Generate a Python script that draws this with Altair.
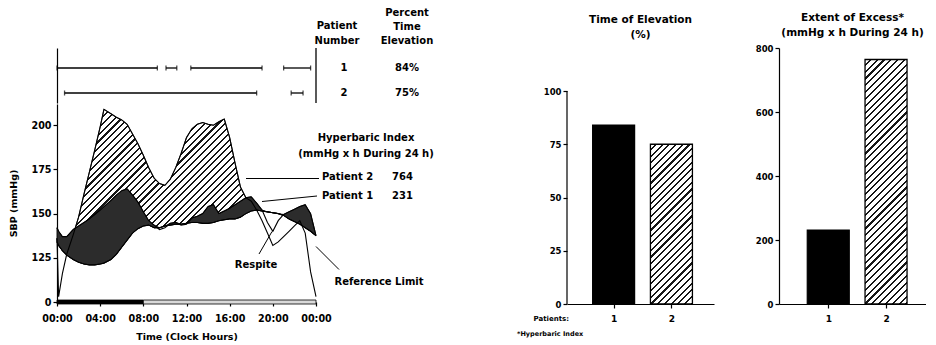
import math
import altair as alt
import pandas as pd

FONT = "DejaVu Sans"

# ---------------- data ----------------
# 24-h ambulatory SBP (axis is broken: 100 on this scale is drawn as "0")
HOURS = [0.0, 0.15, 0.5, 0.9, 1.5, 2.0, 2.5, 3.0, 3.5, 4.0, 4.35, 5.0, 5.5, 6.0, 6.5, 7.0, 7.5, 8.0, 8.5, 9.0,
         9.5, 10.0, 10.5, 11.0, 11.5, 12.0, 12.5, 13.0, 13.5, 14.0, 14.5, 15.0, 15.5, 16.0, 16.5, 17.0, 17.5, 18.0, 18.5, 19.0,
         19.5, 20.0, 20.5, 21.0, 21.5, 22.0, 22.5, 23.0, 23.5, 24.0]
REF_LIMIT = [134, 132, 129, 126.5, 124, 122.5, 121.5, 121, 121, 121.5, 122, 124, 127, 131, 135, 139, 141.5, 143, 143.5, 142,
             142, 143, 143.5, 144, 144, 144.5, 145, 145, 144.5, 144.5, 145, 146, 146.5, 147, 147, 148, 150, 151.5, 152, 151.5,
             151, 150.5, 150, 149, 147, 145.5, 144, 142, 140, 137.5]
PATIENT1_SBP = [142, 140, 137, 137, 141, 143, 145, 147, 149.5, 152, 154, 157.5, 160.5, 163, 164, 160.5, 156.5, 151, 146, 143.5,
                141, 142, 144.5, 145, 143.5, 144, 147.5, 148.5, 150, 154, 155, 150, 151.5, 153, 155, 157, 159, 159.5, 156, 152,
                145, 140, 146, 149.5, 151, 152.5, 154, 155, 150, 137.5]
PATIENT2_SBP = [136, 103, 116, 127, 138, 148, 161, 173.5, 186, 199, 209, 206.5, 204.5, 203, 200.5, 195, 189.5, 183, 176, 170,
                167, 166, 169.5, 176, 184, 193, 198, 200.5, 201.5, 200.5, 200, 202, 203.5, 193, 178.5, 165, 159, 157, 152, 146,
                139, 132, 134, 137, 140, 143, 146, 139, 117, 103]

PATIENTS = [1, 2]
PCT_TIME_ELEVATION = [84, 75]
HYPERBARIC_INDEX = [231, 764]

# periods of elevation (timeline above the curves)
TL_PATIENT = [1, 1, 1, 1, 2, 2]
TL_START = [0.0, 10.1, 12.4, 21.0, 0.7, 21.7]
TL_END = [9.3, 11.1, 19.0, 23.5, 18.5, 22.8]

# night / day band under the time axis
BAND_KIND = ["night", "day"]
BAND_START = [0, 8]
BAND_END = [8, 24]

X_TICKS = [0, 4, 8, 12, 16, 20, 24]
X_TICK_LABELS = ["00:00", "04:00", "08:00", "12:00", "16:00", "20:00", "00:00"]
Y_TICKS = [100, 125, 150, 175, 200]
Y_TICK_LABELS = ["0", "125", "150", "175", "200"]


def label_expr(values, labels):
    vals = ",".join(str(v) for v in values)
    labs = ",".join("'" + s + "'" for s in labels)
    return f"[{labs}][indexof([{vals}], datum.value)]"


def hatch(w, h, spacing=4.8, lw=1.5, ink="#151515", paper="white"):
    """Diagonal '/' hatching as a striped linear gradient for a w x h pixel box."""
    a = (w + h) / (w * w + h * h)
    n = max(1, int(round((w + h) / (math.sqrt(2) * spacing))))
    f = lw * math.sqrt(2) / (w + h)
    stops = []
    for i in range(n):
        s, e = i / n, (i + 1) / n
        stops += [alt.GradientStop(color=paper, offset=round(s, 5)),
                  alt.GradientStop(color=paper, offset=round(e - f, 5)),
                  alt.GradientStop(color=ink, offset=round(e - f, 5)),
                  alt.GradientStop(color=ink, offset=round(e, 5))]
    return alt.Gradient(gradient="linear", stops=stops, x1=0, y1=0, x2=round(w * a, 5), y2=round(h * a, 5))


ONE = pd.DataFrame({"_": [0]})


def label(text, x, y, align="center", size=10, baseline="middle"):
    return alt.Chart(ONE).mark_text(text=text, align=align, baseline=baseline, fontSize=size,
                                    fontWeight="bold", font=FONT, color="black").encode(
        x=alt.value(x), y=alt.value(y))


def leader(x1, y1, x2, y2):
    return alt.Chart(ONE).mark_rule(color="black", strokeWidth=1).encode(
        x=alt.value(x1), y=alt.value(y1), x2=alt.value(x2), y2=alt.value(y2))


# ---------------- left panel: SBP curves ----------------
W_MAIN, H_MAIN = 259, 198
Y_DOM = [100, 212]
px_per_unit = H_MAIN / (Y_DOM[1] - Y_DOM[0])

sbp = pd.DataFrame({"hour": HOURS, "ref": REF_LIMIT, "p1": PATIENT1_SBP, "p2": PATIENT2_SBP})
x_scale = alt.Scale(domain=[0, 24], nice=False, zero=False)
y_scale = alt.Scale(domain=Y_DOM, nice=False, zero=False)

x_axis_main = alt.Axis(values=X_TICKS, labelExpr=label_expr(X_TICKS, X_TICK_LABELS),
                       title="Time (Clock Hours)", domain=False, tickSize=4, labelPadding=7,
                       titlePadding=9, labelFlush=False, labelFontSize=9.6, titleFontSize=9.5)
y_axis_main = alt.Axis(values=Y_TICKS, labelExpr=label_expr(Y_TICKS, Y_TICK_LABELS),
                       title="SBP (mmHg)", tickSize=4, labelPadding=2, titlePadding=12,
                       labelFontSize=9.6, titleFontSize=9.5)

hatch_h = (max(max(p, r) for p, r in zip(PATIENT2_SBP, REF_LIMIT)) - min(REF_LIMIT)) * px_per_unit
hatched_area = alt.Chart(sbp).transform_calculate(top2="max(datum.p2, datum.ref)").mark_area(
    fill=hatch(W_MAIN, hatch_h), stroke="black", strokeWidth=0.8).encode(
    x=alt.X("hour:Q", scale=x_scale, axis=x_axis_main),
    y=alt.Y("top2:Q", scale=y_scale, axis=y_axis_main),
    y2="ref:Q")

dark_area = alt.Chart(sbp).transform_calculate(top1="max(datum.p1, datum.ref)").mark_area(
    fill="#2c2c2c", stroke="black", strokeWidth=0.8).encode(
    x=alt.X("hour:Q", scale=x_scale, axis=x_axis_main),
    y=alt.Y("top1:Q", scale=y_scale, axis=y_axis_main), y2="ref:Q")

curves = alt.Chart(sbp).transform_fold(["ref", "p1", "p2"], as_=["series", "sbp"]).mark_line(
    color="black", strokeWidth=1.1).encode(
    x=alt.X("hour:Q", scale=x_scale, axis=x_axis_main),
    y=alt.Y("sbp:Q", scale=y_scale, axis=y_axis_main), detail="series:N")

band_df = pd.DataFrame({"kind": BAND_KIND, "start": BAND_START, "end": BAND_END})
band = alt.Chart(band_df).mark_rect(stroke="black", strokeWidth=0.8).encode(
    x=alt.X("start:Q", scale=x_scale, axis=x_axis_main), x2="end:Q",
    y=alt.value(H_MAIN - 2), y2=alt.value(H_MAIN + 2),
    fill=alt.Fill("kind:N", scale=alt.Scale(domain=["night", "day"], range=["black", "#d9d9d9"]), legend=None))

hb_df = pd.DataFrame({"patient": PATIENTS, "hbi": HYPERBARIC_INDEX})


def hb_row(p, y):
    base = alt.Chart(hb_df).transform_filter(f"datum.patient == {p}")
    name = base.transform_calculate(lbl="'Patient ' + datum.patient").mark_text(
        align="left", baseline="middle", fontSize=10, fontWeight="bold", font=FONT, color="black").encode(
        x=alt.value(265), y=alt.value(y), text="lbl:N")
    val = base.mark_text(align="left", baseline="middle", fontSize=10, fontWeight="bold", font=FONT,
                         color="black").encode(x=alt.value(335), y=alt.value(y), text=alt.Text("hbi:Q", format="d"))
    return name + val


annotations = (
    label("Hyperbaric Index", 309, 33.5) + label("(mmHg x h During 24 h)", 309, 50) +
    hb_row(2, 72.5) + hb_row(1, 91.5) +
    leader(189, 74.5, 262, 74.5) + leader(205, 97.5, 260, 92) +
    label("Respite", 199, 160.5) + leader(202, 150, 215, 127.5) +
    label("Reference Limit", 322, 177.5) + leader(259, 142.5, 282, 165.5)
)

main = alt.layer(hatched_area, dark_area, curves, band, annotations).properties(width=W_MAIN, height=H_MAIN)

# ---------------- timeline of elevation ----------------
TL_H = 55
tl_df = pd.DataFrame({"patient": TL_PATIENT, "start": TL_START, "end": TL_END})
tl_y = alt.Scale(domain=[0.2, 2.4], reverse=True, nice=False, zero=False)
tl_axis = alt.Axis(title=None, labels=False, ticks=False, grid=False, domain=True)

segments = alt.Chart(tl_df).mark_rule(color="black", strokeWidth=1.3).encode(
    x=alt.X("start:Q", scale=x_scale, axis=None), x2="end:Q",
    y=alt.Y("patient:Q", scale=tl_y, axis=tl_axis))
caps = alt.Chart(tl_df).transform_fold(["start", "end"], as_=["edge", "hr"]).mark_tick(
    orient="vertical", size=5, thickness=1.3, color="black").encode(
    x=alt.X("hr:Q", scale=x_scale, axis=None), y=alt.Y("patient:Q", scale=tl_y, axis=tl_axis))
bracket = alt.Chart(ONE).mark_rule(color="black", strokeWidth=1.3).encode(
    x=alt.XDatum(24, axis=None), y=alt.value(0), y2=alt.value(TL_H))

pt_df = pd.DataFrame({"patient": PATIENTS, "pct": PCT_TIME_ELEVATION})
row_num = alt.Chart(pt_df).mark_text(fontSize=10, fontWeight="bold", font=FONT, color="black").encode(
    x=alt.value(287), y=alt.Y("patient:Q", scale=tl_y, axis=tl_axis), text=alt.Text("patient:Q", format="d"))
row_pct = alt.Chart(pt_df).transform_calculate(lbl="datum.pct + '%'").mark_text(
    fontSize=10, fontWeight="bold", font=FONT, color="black").encode(
    x=alt.value(350), y=alt.Y("patient:Q", scale=tl_y, axis=tl_axis), text="lbl:N")

headers = (label("Patient", 280, -22) + label("Number", 280, -7) +
           label("Percent", 350, -35) + label("Time", 350, -21) + label("Elevation", 350, -7))

timeline = alt.layer(segments, caps, bracket, row_num, row_pct, headers).properties(width=W_MAIN, height=TL_H)

left = alt.vconcat(timeline, main, spacing=0)

# ---------------- bar panels ----------------
bars_df = pd.DataFrame({"patient": PATIENTS, "pct": PCT_TIME_ELEVATION, "hbi": HYPERBARIC_INDEX})
W_BAR, H_BAR = 147, 256


def bar_panel(field, ydom, yticks, axis_top, xdom, title, title_offset, extra=None):
    show_domain = axis_top >= ydom[1]
    bx = alt.Scale(domain=xdom, nice=False, zero=False)
    x_axis = alt.Axis(values=PATIENTS, format="d", title=None, grid=False, tickSize=4, labelPadding=6,
                      labelFontSize=9)
    y_axis = alt.Axis(values=yticks, title=None, grid=False, tickSize=4, labelPadding=2,
                      labelFontSize=8.5, domain=show_domain)
    xenc = alt.X("patient:Q", scale=bx, axis=x_axis)
    yenc = alt.Y(f"{field}:Q", scale=alt.Scale(domain=ydom, nice=False), axis=y_axis)
    solid = alt.Chart(bars_df).transform_filter("datum.patient == 1").mark_bar(
        orient="vertical", size=42, fill="black", stroke="black", strokeWidth=1.2).encode(x=xenc, y=yenc)
    h2 = bars_df.loc[bars_df.patient == 2, field].iloc[0] / ydom[1] * H_BAR
    striped = alt.Chart(bars_df).transform_filter("datum.patient == 2").mark_bar(
        orient="vertical", size=42, fill=hatch(42, h2), stroke="black", strokeWidth=1.3).encode(x=xenc, y=yenc)
    layers = [solid, striped]
    if not show_domain:
        layers.append(alt.Chart(ONE).mark_rule(color="black", strokeWidth=1.2).encode(
            x=alt.value(0), y=alt.YDatum(0, axis=y_axis), y2=alt.datum(axis_top)))
    if extra is not None:
        layers.append(extra)
    return alt.layer(*layers).properties(
        width=W_BAR, height=H_BAR,
        title=alt.TitleParams(text=title, fontSize=10.5, fontWeight="bold", font=FONT, anchor="middle",
                              offset=title_offset, lineHeight=15))


mid_extra = (label("Patients:", 2, H_BAR + 15, align="right", size=7) +
             label("*Hyperbaric Index", -50, H_BAR + 30, align="left", size=6.5))
mid = bar_panel("pct", [0, 100 * 256 / 213], [0, 25, 50, 75, 100], 100, [0.28, 2.65],
                ["Time of Elevation", "(%)"], 8, mid_extra)
right = bar_panel("hbi", [0, 800], [0, 200, 400, 600, 800], 800, [0.234, 2.605],
                  ["Extent of Excess*", "(mmHg x h During 24 h)"], 6)

chart = alt.hconcat(left, alt.hconcat(mid, right, spacing=41), spacing=83).properties(
    padding=0
).configure_view(stroke=None).configure_axis(
    labelFont=FONT, titleFont=FONT, labelFontWeight="bold", titleFontWeight="bold",
    labelColor="black", titleColor="black",
    domainColor="black", tickColor="black", domainWidth=1.2, tickWidth=1.2, grid=False
).configure_title(color="black")

chart.save("out.html", embed_options={"renderer": "svg", "actions": False})
